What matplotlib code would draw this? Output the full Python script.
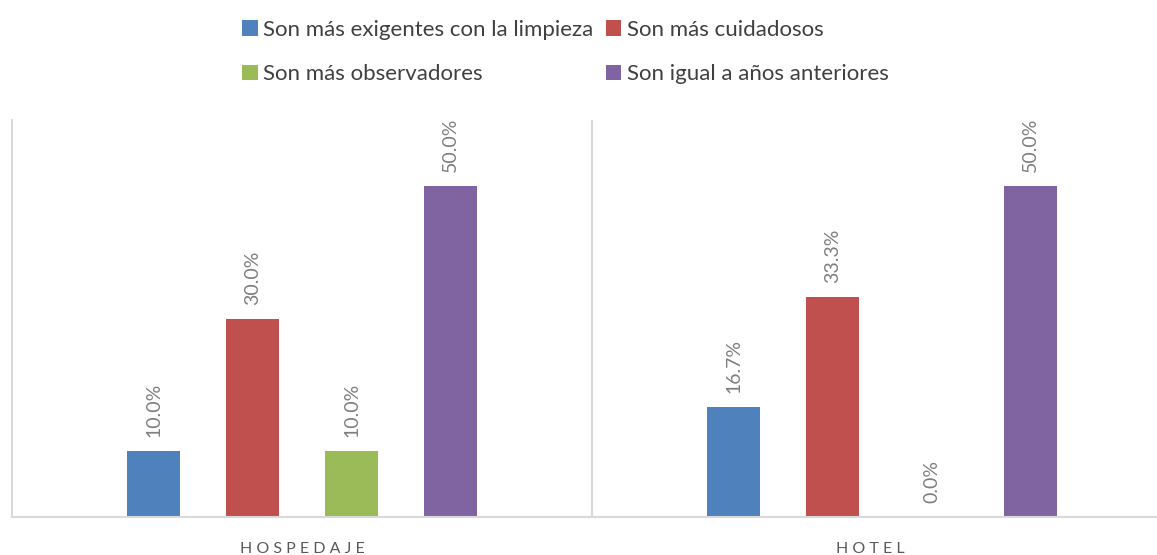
import matplotlib.pyplot as plt
import matplotlib.transforms as mtransforms
import numpy as np

plt.rcParams['font.family'] = ['Lato', 'DejaVu Sans']

# Data
categories = ['HOSPEDAJE', 'HOTEL']
series = ['Son más exigentes con la limpieza', 'Son más cuidadosos',
          'Son más observadores', 'Son igual a años anteriores']
values = [
    [0.100, 0.167],   # exigentes
    [0.300, 0.333],   # cuidadosos
    [0.100, 0.000],   # observadores
    [0.500, 0.500],   # igual
]
colors = ['#4f81bd', '#c0504d', '#9bbb59', '#8064a2']

fig = plt.figure(figsize=(11.57, 5.55), dpi=100)
ax = fig.add_axes([12 / 1157, 38 / 555, 1160 / 1157, 397 / 555])

x = np.arange(len(categories))
step = 0.1707
width = 0.0897
bars = []
for k in range(len(series)):
    pos = x + (k - 1.5) * step
    b = ax.bar(pos, values[k], width, color=colors[k], label=series[k])
    bars.append(b)
    for xi, v in zip(pos, values[k]):
        ax.annotate(f'{v * 100:.1f}%', (xi, v), xytext=(0, 10),
                    textcoords='offset points', rotation=90,
                    ha='center', va='bottom', fontsize=14, color='#7f7f7f')

ax.set_xlim(-0.5, 1.5)
ax.set_ylim(0, 0.6)
ax.set_yticks([])
ax.set_xticks(x)
ax.set_xticklabels([' '.join(c) for c in categories], fontsize=11.5, color='#595959')
ax.tick_params(axis='x', length=0, pad=18)
# the right category is cut by the image edge, its label sits a bit left
lbl = ax.get_xticklabels()[1]
lbl.set_transform(lbl.get_transform() + mtransforms.ScaledTranslation(-0.12, 0, fig.dpi_scale_trans))
ax.axvline(0.5, color='#d9d9d9', lw=1.5)
for s in ['top', 'right']:
    ax.spines[s].set_visible(False)
for s in ['left', 'bottom']:
    ax.spines[s].set_color('#d9d9d9')
    ax.spines[s].set_linewidth(1.5)

order = [0, 2, 1, 3]
handles = [bars[i] for i in order]
labels = [series[i] for i in order]
fig.legend(handles, labels, ncol=2, loc='upper left', bbox_to_anchor=(222 / 1157, 1.0),
           frameon=False, fontsize=16, handlelength=0.7, handleheight=0.7,
           handletextpad=0.25, columnspacing=0.55, labelspacing=1.1,
           labelcolor='#404040', borderaxespad=0.5)

fig.savefig('out.png', dpi=100)
